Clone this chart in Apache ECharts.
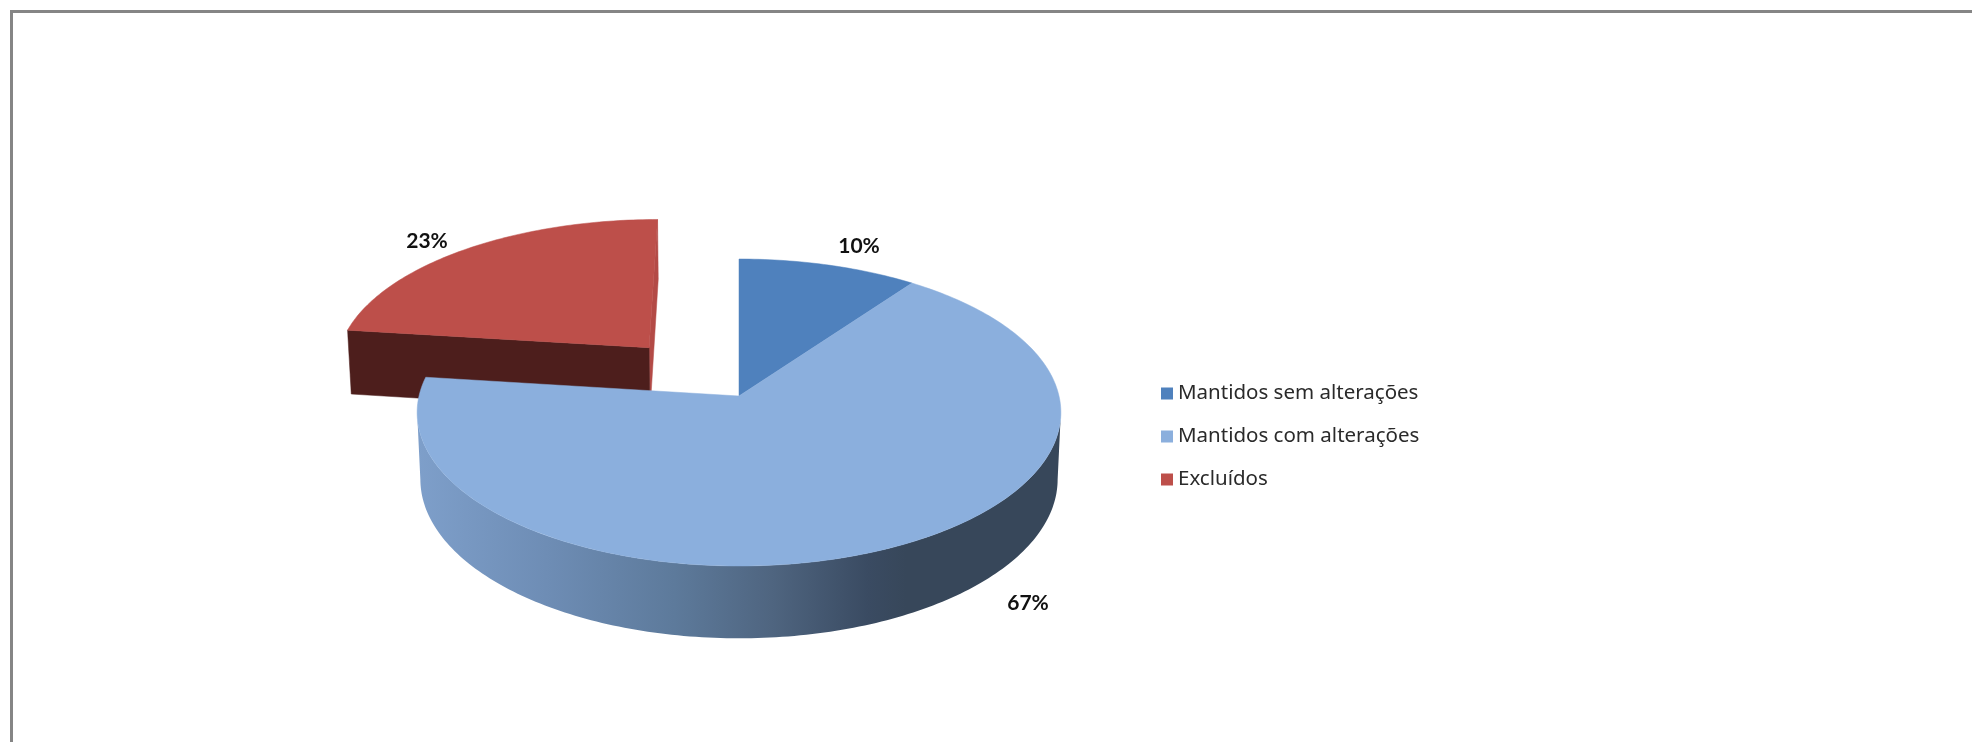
<!DOCTYPE html>
<html><head><meta charset="utf-8">
<style>html,body{margin:0;padding:0;background:#fff}#c{width:1972px;height:742px}</style>
<script src="https://cdn.jsdelivr.net/npm/echarts@6/dist/echarts.min.js"></script>
</head><body><div id="c"></div>
<script>
const categories = ['Mantidos sem alterações', 'Mantidos com alterações', 'Excluídos'];
const values = [10, 67, 23];
const exploded = [0, 0, 0.44];
const colors = ['#4f81bd', '#8bafdd', '#bd4f4a'];

// Layout of the tilted pie: a perspective projection of the unit disc.
const PIVOT = [739, 396], SX = 320, SY = 151.7, TILT = 0.1075, DEPTH_Y = 67, DEPTH_W = 0.01;
const LABEL_POS = [[859, 246], [1028, 603], [427, 241]];
const STEP = Math.PI / 180;

function project(u, v, bottom) {
  const w = 1 - TILT * v + (bottom ? DEPTH_W : 0);
  return [PIVOT[0] + SX * u / w, PIVOT[1] + (SY * v + (bottom ? DEPTH_Y : 0)) / w];
}
const total = values.reduce((a, b) => a + b, 0);
const slices = [];
values.reduce((start, v, i) => {
  const end = start + v / total * 2 * Math.PI, mid = (start + end) / 2;
  slices.push({ start, end, ox: exploded[i] * Math.sin(mid), oy: -exploded[i] * Math.cos(mid) });
  return end;
}, 0);
function rim(s, bottom, from, to) {
  const pts = [], a0 = from === undefined ? s.start : from, a1 = to === undefined ? s.end : to;
  const n = Math.max(2, Math.ceil(Math.abs(a1 - a0) / STEP));
  for (let i = 0; i <= n; i++) {
    const a = a0 + (a1 - a0) * i / n;
    pts.push(project(s.ox + Math.sin(a), s.oy - Math.cos(a), bottom));
  }
  return pts;
}
const sideGradient = new echarts.graphic.LinearGradient(0, 0, 1, 0, [
  { offset: 0, color: '#7e9fca' }, { offset: 0.2, color: '#6e8db5' },
  { offset: 0.4, color: '#5d7a9b' }, { offset: 0.55, color: '#4f6580' },
  { offset: 0.7, color: '#3a4b62' }, { offset: 0.76, color: '#37475a' }, { offset: 1, color: '#37475a' }
]);
function renderSlice(idx) {
  return function () {
    const s = slices[idx], kids = [];
    const add = (points, fill, stroke) => kids.push({ type: 'polygon', shape: { points },
      style: { fill, stroke: stroke || fill, lineWidth: 0.5 } });
    const pt = project(s.ox, s.oy, false), pb = project(s.ox, s.oy, true);
    if (idx === 1) {
      // the visible wall runs between the two silhouette angles of the disc
      const edge = Math.acos(-TILT);
      const a0 = Math.max(s.start, edge), a1 = Math.min(s.end, 2 * Math.PI - edge);
      add(rim(s, false, a0, a1).concat(rim(s, true, a0, a1).reverse()), sideGradient, 'transparent');
    }
    if (idx === 2) {
      add(rim(s, false, s.end, s.end).concat(rim(s, true, s.end, s.end).reverse()).concat([pb, pt]), '#b34a46');
      add(rim(s, false, s.start, s.start).concat(rim(s, true, s.start, s.start).reverse()).concat([pb, pt]), '#4d1e1c');
    }
    add([pt].concat(rim(s, false)), colors[idx]);
    kids.push({ type: 'text', style: { text: values[idx] + '%', x: LABEL_POS[idx][0], y: LABEL_POS[idx][1],
      align: 'center', verticalAlign: 'middle', fill: '#111', font: 'bold 21px Lato' }, z2: 10 });
    return { type: 'group', children: kids };
  };
}
const chart = echarts.init(document.getElementById('c'), null, { renderer: 'canvas' });
const order = [2, 0, 1];
chart.setOption({
  animation: false,
  backgroundColor: '#fff',
  legend: {
    orient: 'vertical', left: 1156, top: 378, itemWidth: 12, itemHeight: 12, itemGap: 22,
    icon: 'rect', selectedMode: false, data: categories, itemStyle: { borderWidth: 0 },
    textStyle: { fontFamily: 'Noto Sans', fontSize: 20.5, color: '#2a2a2a', padding: [0, 0, 0, 0] }
  },
  graphic: [
    { type: 'polyline', shape: { points: [[11.5, 742], [11.5, 11.5], [1972, 11.5]] },
      style: { stroke: '#858585', lineWidth: 3, fill: 'none' } }
  ],
  series: order.map(i => ({
    type: 'custom', name: categories[i], coordinateSystem: 'none',
    data: [values[i]], itemStyle: { color: colors[i] }, renderItem: renderSlice(i)
  }))
});
</script></body></html>
